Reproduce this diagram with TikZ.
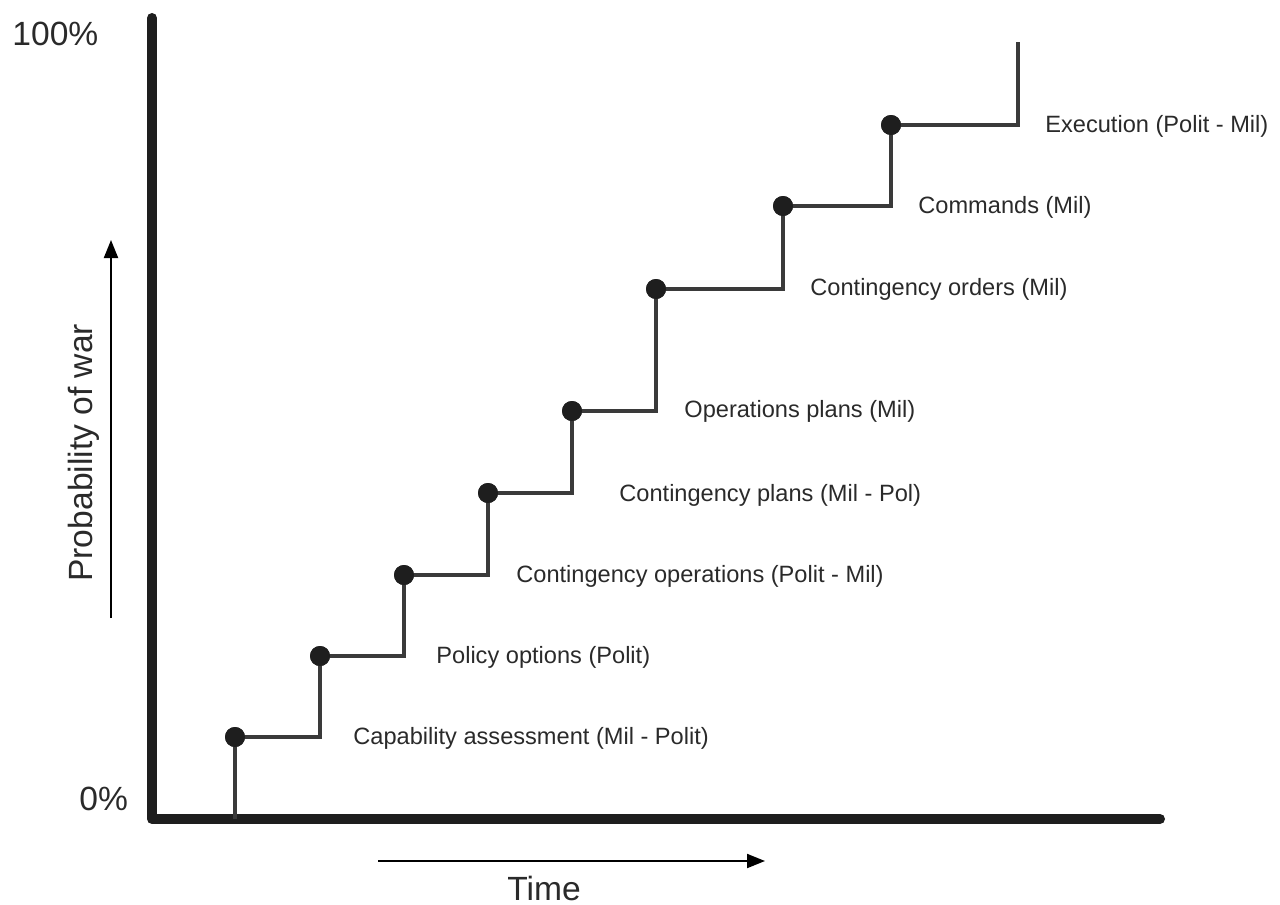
\documentclass[tikz,border=0pt]{standalone}
\usepackage{fontspec}
\setmainfont{Liberation Sans}
\usetikzlibrary{arrows.meta}
\definecolor{axiscol}{HTML}{1E1E1E}
\definecolor{stepcol}{HTML}{3A3A3A}
\definecolor{txtcol}{HTML}{2A2A2A}
\begin{document}
\begin{tikzpicture}[x=0.5pt,y=-0.5pt,
  axisline/.style={line width=5pt,color=axiscol,line cap=round,line join=round},
  stairline/.style={line width=2.4pt,color=stepcol,line join=miter},
  dotnode/.style={circle,fill=axiscol,inner sep=0pt,minimum size=10pt},
  steplabel/.style={anchor=base west,inner sep=0pt,text=txtcol,font=\fontsize{11.8}{14}\selectfont},
  biglabel/.style={inner sep=0pt,text=txtcol,font=\fontsize{16.8}{20}\selectfont},
  dirarrow/.style={line width=1pt,color=black,-{Triangle[length=9pt,width=7pt]}}]
\useasboundingbox (0,0) rectangle (1280,905);
% axes
\coordinate (ytop) at (152,18);
\coordinate (origin) at (152,819);
\coordinate (xend) at (1160,819);
\draw[axisline] (ytop) -- (origin) -- (xend);
% step dots
\node[dotnode] (d1) at (235,737) {};
\node[dotnode] (d2) at (320,656) {};
\node[dotnode] (d3) at (404,575) {};
\node[dotnode] (d4) at (488,493) {};
\node[dotnode] (d5) at (572,411) {};
\node[dotnode] (d6) at (656,289) {};
\node[dotnode] (d7) at (783,206) {};
\node[dotnode] (d8) at (891,125) {};
\coordinate (s0) at (235,819);
\coordinate (send) at (1018,42);
\draw[stairline] (s0) -- (d1.center) -| (d2.center) -| (d3.center) -| (d4.center) -| (d5.center) -| (d6.center) -| (d7.center) -| (d8.center) -| (send);
% redraw dots on top of the stair line
\foreach \n in {d1,d2,d3,d4,d5,d6,d7,d8}{\fill[axiscol] (\n.center) circle[radius=10];}
% labels
\node[steplabel] (l1) at (353,744) {Capability assessment (Mil - Polit)};
\node[steplabel] (l2) at (436,663) {Policy options (Polit)};
\node[steplabel] (l3) at (516,582) {Contingency operations (Polit - Mil)};
\node[steplabel] (l4) at (619,501) {Contingency plans (Mil - Pol)};
\node[steplabel] (l5) at (684,417) {Operations plans (Mil)};
\node[steplabel] (l6) at (810,295) {Contingency orders (Mil)};
\node[steplabel] (l7) at (918,213) {Commands (Mil)};
\node[steplabel] (l8) at (1045,132) {Execution (Polit - Mil)};
% axis texts
\node[biglabel,anchor=base west] (p100) at (12,45) {100\%};
\node[biglabel,anchor=base west] (p0) at (79,810) {0\%};
% direction arrows
\coordinate (ta) at (378,861);
\coordinate (tb) at (765,861);
\draw[dirarrow] (ta) -- (tb);
\node[biglabel,anchor=base west] (time) at (507,900) {Time};
\coordinate (pa) at (111,618);
\coordinate (pb) at (111,240);
\draw[dirarrow] (pa) -- (pb);
\node[biglabel,anchor=base west,rotate=90] (prob) at (92,582) {Probability of war};
\end{tikzpicture}
\end{document}
